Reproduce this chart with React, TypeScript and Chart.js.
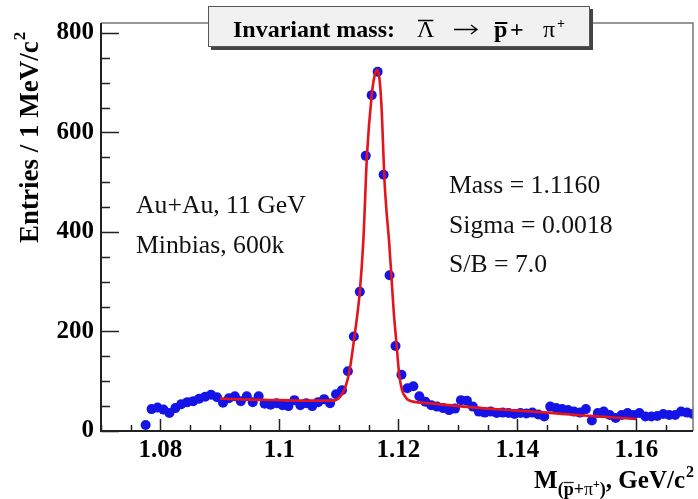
import React, { useEffect, useRef } from "react";
import { Chart, registerables } from "chart.js";
Chart.register(...registerables);

// Histogram: invariant mass bins (GeV/c^2) and entries per 1 MeV/c^2
const binCenters = [
  1.0775, 1.0785, 1.0795, 1.0805, 1.0815, 1.0825, 1.0835, 1.0845, 1.0855, 1.0865,
  1.0875, 1.0885, 1.0895, 1.0905, 1.0915, 1.0925, 1.0935, 1.0945, 1.0955, 1.0965,
  1.0975, 1.0985, 1.0995, 1.1005, 1.1015, 1.1025, 1.1035, 1.1045, 1.1055, 1.1065,
  1.1075, 1.1085, 1.1095, 1.1105, 1.1115, 1.1125, 1.1135, 1.1145, 1.1155, 1.1165,
  1.1175, 1.1185, 1.1195, 1.1205, 1.1215, 1.1225, 1.1235, 1.1245, 1.1255, 1.1265,
  1.1275, 1.1285, 1.1295, 1.1305, 1.1315, 1.1325, 1.1335, 1.1345, 1.1355, 1.1365,
  1.1375, 1.1385, 1.1395, 1.1405, 1.1415, 1.1425, 1.1435, 1.1445, 1.1455, 1.1465,
  1.1475, 1.1485, 1.1495, 1.1505, 1.1515, 1.1525, 1.1535, 1.1545, 1.1555, 1.1565,
  1.1575, 1.1585, 1.1595, 1.1605, 1.1615, 1.1625, 1.1635, 1.1645, 1.1655, 1.1665,
  1.1675, 1.1685, 1.1695,
];
const entries = [
  12, 44, 47, 43, 36, 46, 54, 58, 60, 65,
  69, 73, 68, 57, 66, 70, 60, 70, 58, 70,
  55, 53, 56, 52, 50, 62, 52, 56, 50, 58,
  64, 56, 74, 82, 120, 190, 280, 553, 675, 722,
  515, 313, 171, 113, 86, 90, 70, 59, 52, 49,
  46, 42, 45, 62, 61, 49, 39, 37, 39, 36,
  37, 36, 34, 36, 35, 37, 33, 29, 49, 46,
  44, 42, 39, 37, 44, 21, 36, 39, 32, 26,
  32, 36, 32, 36, 29, 29, 30, 34, 32, 32,
  39, 37, 34,
];

// Fit curve (signal + background)
const fitMass = [
  1.09, 1.095, 1.1, 1.105, 1.109, 1.1102, 1.1111, 1.1118, 1.1126, 1.1135,
  1.1141, 1.1147, 1.1155, 1.116, 1.1164, 1.1168, 1.1172, 1.1176, 1.118, 1.1184,
  1.1188, 1.1192, 1.1197, 1.1201, 1.1206, 1.1212, 1.1217, 1.123, 1.125, 1.13,
  1.135, 1.14, 1.145, 1.15, 1.155, 1.16,
];
const fitEntries = [
  65, 63, 62, 61, 61, 69, 89, 123, 190, 280,
  384, 553, 675, 715, 726, 708, 640, 515, 440, 384,
  313, 240, 171, 116, 82, 68, 62, 58, 56, 50,
  45, 41, 37, 32, 28, 24,
];

const xTicks = [1.08, 1.1, 1.12, 1.14, 1.16];
const xTickLabels = ["1.08", "1.1", "1.12", "1.14", "1.16"];
const yTicks = [0, 200, 400, 600, 800];
const yTickLabels = ["0", "200", "400", "600", "800"];

const X_MIN = 1.07;
const X_MAX = 1.1695;
const Y_MIN = 0;
const Y_MAX = 820;
const X_MINOR = 0.005;
const Y_MINOR = 50;

const infoLeft = ["Au+Au, 11 GeV", "Minbias, 600k"];
const infoRight = ["Mass = 1.1160", "Sigma = 0.0018", "S/B = 7.0"];

const SERIF = "'Liberation Serif', 'DejaVu Serif', serif";

const decorPlugin = {
  id: "decor",
  afterDraw(chart: any) {
    const { ctx, chartArea: a, scales } = chart;
    const xs = scales.x;
    const ys = scales.y;
    ctx.save();

    // frame
    ctx.lineCap = "butt";
    ctx.strokeStyle = "#777";
    ctx.lineWidth = 1.5;
    ctx.beginPath();
    ctx.moveTo(a.left, a.top);
    ctx.lineTo(a.right, a.top);
    ctx.lineTo(a.right, a.bottom);
    ctx.stroke();
    ctx.strokeStyle = "#222";
    ctx.lineWidth = 2;
    ctx.beginPath();
    ctx.moveTo(a.left, a.top);
    ctx.lineTo(a.left, a.bottom);
    ctx.lineTo(a.right, a.bottom);
    ctx.stroke();

    // ticks (inside)
    ctx.lineWidth = 1.5;
    ctx.strokeStyle = "#222";
    ctx.beginPath();
    for (let v = Y_MIN; v <= Y_MAX + 1e-9; v += Y_MINOR) {
      const py = Math.round(ys.getPixelForValue(v)) + 0.5;
      const major = Math.abs(v % 200) < 1e-6;
      const len = major ? 18 : 9;
      ctx.moveTo(a.left, py);
      ctx.lineTo(a.left + len, py);
    }
    for (let k = 0; ; k++) {
      const v = X_MIN + k * X_MINOR;
      if (v > X_MAX + 1e-9) break;
      const px = Math.round(xs.getPixelForValue(v)) + 0.5;
      const r = Math.round(v * 1000) % 20;
      const major = r === 0;
      const len = major ? 12 : 6;
      ctx.moveTo(px, a.bottom);
      ctx.lineTo(px, a.bottom - len);
    }
    ctx.stroke();

    // Y axis title
    ctx.fillStyle = "#000";
    ctx.save();
    ctx.translate(28, 243);
    ctx.rotate(-Math.PI / 2);
    ctx.font = `bold 27px ${SERIF}`;
    ctx.textAlign = "left";
    ctx.textBaseline = "alphabetic";
    const yt = "Entries / 1 MeV/c";
    ctx.fillText(yt, 0, 10);
    const ytw = ctx.measureText(yt).width;
    ctx.font = `bold 17px ${SERIF}`;
    ctx.fillText("2", ytw + 1, -3);
    ctx.restore();

    // X axis title (right aligned)
    {
      const baseY = 488;
      const big = `bold 25px ${SERIF}`;
      const small = `bold 18px ${SERIF}`;
      ctx.font = big;
      const wM = ctx.measureText("M").width;
      const wTail = ctx.measureText(", GeV/c").width;
      ctx.font = small;
      const w1 = ctx.measureText("(").width;
      const wP = ctx.measureText("p").width;
      const w2 = ctx.measureText("+").width;
      ctx.font = `18px ${SERIF}`;
      const wPi = ctx.measureText("\u03c0").width;
      ctx.font = `bold 12px ${SERIF}`;
      const wPl = ctx.measureText("+").width;
      ctx.font = small;
      const w3 = ctx.measureText(")").width;
      ctx.font = `bold 16px ${SERIF}`;
      const w2sup = ctx.measureText("2").width;
      const total = wM + w1 + wP + w2 + wPi + wPl + w3 + wTail + w2sup + 1;
      let cx = a.right + 1 - total;
      ctx.textAlign = "left";
      ctx.textBaseline = "alphabetic";
      ctx.font = big;
      ctx.fillText("M", cx, baseY);
      cx += wM;
      const sy = baseY + 7;
      ctx.font = small;
      ctx.fillText("(", cx, sy);
      cx += w1;
      ctx.fillText("p", cx, sy);
      ctx.lineWidth = 1.3;
      ctx.beginPath();
      ctx.moveTo(cx, sy - 12.5);
      ctx.lineTo(cx + wP, sy - 12.5);
      ctx.stroke();
      cx += wP;
      ctx.fillText("+", cx, sy);
      cx += w2;
      ctx.font = `18px ${SERIF}`;
      ctx.fillText("\u03c0", cx, sy);
      cx += wPi;
      ctx.font = `bold 12px ${SERIF}`;
      ctx.fillText("+", cx, sy - 7);
      cx += wPl;
      ctx.font = small;
      ctx.fillText(")", cx, sy);
      cx += w3;
      ctx.font = big;
      ctx.fillText(", GeV/c", cx, baseY);
      cx += wTail + 1;
      ctx.font = `bold 16px ${SERIF}`;
      ctx.fillText("2", cx, baseY - 11);
    }

    // Title box
    {
      const bx = 208, by = 6, bw = 382, bh = 41;
      ctx.fillStyle = "#444";
      ctx.fillRect(bx + 3, by + 3, bw, bh);
      ctx.fillStyle = "#f1f1f1";
      ctx.fillRect(bx, by, bw, bh);
      ctx.strokeStyle = "#555";
      ctx.lineWidth = 1;
      ctx.strokeRect(bx + 0.5, by + 0.5, bw - 1, bh - 1);

      const base = 37;
      ctx.fillStyle = "#000";
      ctx.strokeStyle = "#000";
      ctx.textAlign = "left";
      ctx.textBaseline = "alphabetic";
      ctx.font = `bold 24px ${SERIF}`;
      ctx.fillText("Invariant mass:", 233, base);
      ctx.font = `24px ${SERIF}`;
      const lx = 417;
      ctx.fillText("\u039b", lx, base);
      const lw = ctx.measureText("\u039b").width;
      ctx.lineWidth = 1.5;
      ctx.beginPath();
      ctx.moveTo(lx + 1, 20.5);
      ctx.lineTo(lx + lw - 1, 20.5);
      ctx.stroke();
      // arrow
      ctx.lineWidth = 1.3;
      ctx.beginPath();
      ctx.moveTo(454, 29.5);
      ctx.lineTo(477, 29.5);
      ctx.moveTo(471, 25);
      ctx.lineTo(477, 29.5);
      ctx.lineTo(471, 34);
      ctx.stroke();
      ctx.font = `bold 24px ${SERIF}`;
      const px = 494;
      ctx.fillText("p", px, base);
      const pw = ctx.measureText("p").width;
      ctx.lineWidth = 2;
      ctx.beginPath();
      ctx.moveTo(px + 1, 23);
      ctx.lineTo(px + pw, 23);
      ctx.stroke();
      ctx.fillText("+", 510, base);
      ctx.font = `24px ${SERIF}`;
      ctx.fillText("\u03c0", 543, base);
      ctx.font = `bold 14px ${SERIF}`;
      ctx.fillText("+", 557, 28);
    }

    // Info text
    ctx.fillStyle = "#111";
    ctx.font = `25.7px ${SERIF}`;
    ctx.textAlign = "left";
    ctx.textBaseline = "alphabetic";
    infoLeft.forEach((t, i) => ctx.fillText(t, 136, 213 + i * 40));
    infoRight.forEach((t, i) => ctx.fillText(t, 449, 193 + i * 39.5));

    ctx.restore();
  },
};

export default function App() {
  const ref = useRef<HTMLCanvasElement | null>(null);

  useEffect(() => {
    if (!ref.current) return;
    const chart = new Chart(ref.current, {
      type: "scatter",
      data: {
        datasets: [
          {
            label: "fit",
            data: fitMass.map((m, i) => ({ x: m, y: fitEntries[i] })),
            showLine: true,
            borderColor: "#e3141c",
            borderWidth: 2.6,
            pointRadius: 0,
            cubicInterpolationMode: "monotone",
            order: 0,
          } as any,
          {
            label: "data",
            data: binCenters.map((m, i) => ({ x: m, y: entries[i] })),
            showLine: false,
            backgroundColor: "#1414e6",
            borderWidth: 0,
            pointRadius: 5,
            order: 1,
          } as any,
        ],
      },
      options: {
        animation: false,
        responsive: false,
        maintainAspectRatio: false,
        devicePixelRatio: 1,
        layout: { padding: { top: 23, right: 3, left: 0, bottom: 0 } },
        plugins: {
          legend: { display: false },
          tooltip: { enabled: false },
          title: { display: false },
        },
        scales: {
          x: {
            type: "linear",
            min: X_MIN,
            max: X_MAX,
            afterBuildTicks: (s: any) => {
              s.ticks = xTicks.map((v) => ({ value: v }));
            },
            afterFit: (s: any) => {
              s.height = 68;
            },
            grid: { display: false, drawTicks: false },
            border: { display: false },
            ticks: {
              autoSkip: false,
              maxRotation: 0,
              padding: 5,
              color: "#000",
              font: { family: SERIF, size: 25, weight: "bold" },
              callback: (_v: any, i: number) => xTickLabels[i],
            },
          },
          y: {
            type: "linear",
            min: Y_MIN,
            max: Y_MAX,
            afterBuildTicks: (s: any) => {
              s.ticks = yTicks.map((v) => ({ value: v }));
            },
            afterFit: (s: any) => {
              s.width = 101;
            },
            grid: { display: false, drawTicks: false },
            border: { display: false },
            ticks: {
              autoSkip: false,
              padding: 7,
              color: "#000",
              font: { family: SERIF, size: 25, weight: "bold" },
              callback: (_v: any, i: number) => yTickLabels[i],
            },
          },
        },
      },
      plugins: [decorPlugin],
    });
    return () => chart.destroy();
  }, []);

  return (
    <div
      style={{
        position: "absolute",
        left: 0,
        top: 0,
        width: 698,
        height: 499,
        background: "#fff",
      }}
    >
      <canvas ref={ref} width={698} height={499} style={{ display: "block" }} />
    </div>
  );
}
